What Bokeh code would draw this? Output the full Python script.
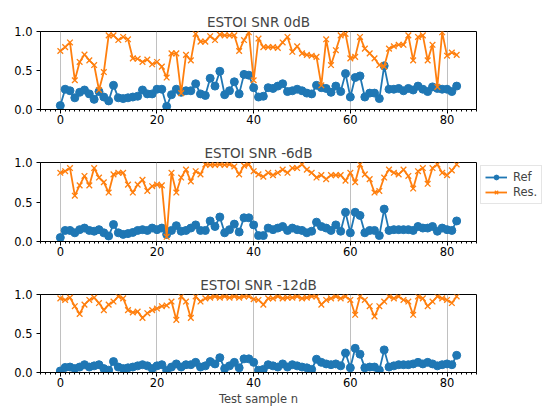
from bokeh.plotting import figure
from bokeh.layouts import column, row
from bokeh.models import (Range1d, SingleIntervalTicker, FixedTicker, PrintfTickFormatter,
                          Legend, LegendItem)
from bokeh.embed import file_html
from bokeh.resources import INLINE

n = list(range(83))

snr0_ref = [0.05,0.26,0.24,0.15,0.22,0.25,0.20,0.13,0.23,0.16,
            0.11,0.31,0.15,0.14,0.15,0.16,0.17,0.25,0.20,0.20,
            0.26,0.26,0.04,0.19,0.26,0.22,0.24,0.24,0.33,0.20,
            0.18,0.40,0.30,0.49,0.19,0.24,0.355,0.20,0.45,0.44,
            0.28,0.16,0.17,0.28,0.27,0.30,0.33,0.23,0.24,0.26,
            0.24,0.21,0.20,0.31,0.28,0.27,0.22,0.30,0.23,0.46,
            0.16,0.41,0.43,0.16,0.21,0.21,0.14,0.56,0.26,0.26,
            0.27,0.24,0.27,0.25,0.30,0.26,0.23,0.29,0.27,0.26,
            0.26,0.23,0.30]
snr0_res = [0.75,0.80,0.86,0.375,0.61,0.705,0.63,0.57,0.25,0.48,
            0.95,0.95,0.89,0.93,0.90,0.655,0.65,0.61,0.64,0.58,
            0.61,0.55,0.41,0.72,0.72,0.21,0.70,0.63,0.97,0.87,
            0.87,0.94,0.89,0.96,0.95,0.95,0.95,0.75,0.89,0.99,
            0.375,0.91,0.80,0.80,0.80,0.79,0.86,0.93,0.74,0.81,
            0.72,0.70,0.69,0.675,0.31,0.90,0.57,0.76,0.95,0.97,
            0.655,0.675,0.93,0.78,0.72,0.655,0.57,0.55,0.78,0.81,
            0.83,0.83,0.95,0.63,0.93,0.95,0.63,0.83,0.29,0.99,
            0.69,0.73,0.70]

snr6_ref = [0.05,0.14,0.14,0.11,0.15,0.17,0.14,0.13,0.15,0.11,
            0.07,0.215,0.11,0.09,0.10,0.115,0.14,0.15,0.14,0.17,
            0.15,0.17,0.09,0.14,0.20,0.13,0.14,0.17,0.21,0.14,
            0.14,0.26,0.19,0.31,0.11,0.15,0.22,0.12,0.30,0.30,
            0.21,0.075,0.075,0.17,0.15,0.17,0.19,0.14,0.17,0.15,
            0.14,0.11,0.13,0.245,0.19,0.17,0.14,0.21,0.13,0.37,
            0.11,0.37,0.33,0.11,0.14,0.14,0.075,0.41,0.14,0.15,
            0.15,0.15,0.15,0.14,0.19,0.17,0.17,0.19,0.13,0.17,
            0.15,0.14,0.26]
snr6_res = [0.87,0.89,0.93,0.58,0.71,0.83,0.71,0.93,0.81,0.75,
            0.62,0.85,0.87,0.87,0.72,0.62,0.72,0.78,0.64,0.70,
            0.72,0.71,0.06,0.87,0.62,0.81,0.91,0.76,0.89,0.85,
            0.975,0.97,0.97,0.975,0.97,0.975,0.95,0.85,0.96,0.975,
            0.89,0.85,0.82,0.87,0.84,0.87,0.91,0.87,0.93,0.93,
            0.975,0.91,0.87,0.81,0.84,0.79,0.84,0.84,0.84,0.77,
            0.87,0.75,0.975,0.85,0.79,0.62,0.64,0.81,0.91,0.87,
            0.85,0.91,0.83,0.67,0.89,0.93,0.73,0.93,0.975,0.87,
            0.84,0.90,0.975]

snr12_ref = [0.02,0.065,0.07,0.05,0.07,0.10,0.07,0.085,0.10,0.05,
             0.03,0.14,0.07,0.05,0.06,0.07,0.085,0.10,0.085,0.05,
             0.085,0.10,0.03,0.07,0.11,0.07,0.10,0.10,0.13,0.07,
             0.085,0.14,0.11,0.19,0.05,0.085,0.13,0.06,0.175,0.175,
             0.13,0.03,0.04,0.10,0.085,0.07,0.11,0.07,0.10,0.085,
             0.07,0.06,0.04,0.17,0.13,0.11,0.10,0.11,0.085,0.25,
             0.06,0.31,0.235,0.06,0.07,0.07,0.03,0.29,0.07,0.085,
             0.10,0.10,0.10,0.11,0.13,0.11,0.13,0.11,0.085,0.10,
             0.11,0.10,0.22]
snr12_res = [0.95,0.93,0.96,0.85,0.75,0.87,0.93,0.96,0.89,0.80,
             0.87,0.91,0.975,0.95,0.80,0.77,0.78,0.70,0.76,0.80,
             0.82,0.85,0.86,0.91,0.675,0.975,0.91,0.70,0.975,0.91,
             0.95,0.96,0.975,0.96,0.975,0.96,0.975,0.96,0.975,0.975,
             0.94,0.93,0.87,0.95,0.95,0.975,0.95,0.96,0.96,0.975,
             0.95,0.96,0.975,0.975,0.87,0.93,0.95,0.975,0.95,0.975,
             0.93,0.74,0.975,0.93,0.85,0.72,0.85,0.91,0.975,0.95,
             0.975,0.93,0.91,0.74,0.975,0.95,0.85,0.91,0.975,0.95,
             0.93,0.89,0.975]

titles = ["ESTOI SNR 0dB", "ESTOI SNR -6dB", "ESTOI SNR -12dB"]
series = [(snr0_ref, snr0_res), (snr6_ref, snr6_res), (snr12_ref, snr12_res)]
labels = ["Ref", "Res."]
y_ticks = [0.0, 0.5, 1.0]
BLUE = "#1f77b4"
ORANGE = "#ff7f0e"
FONT = "DejaVu Sans"

# (width, height, border top, border bottom, border right)
dims = [(547, 139, 31, 30, 71), (478, 131, 23, 29, 2), (547, 142, 24, 40, 71)]

figs = []
for k in range(3):
    w, h, bt, bb, br = dims[k]
    p = figure(width=w, height=h, output_backend="svg", toolbar_location=None,
               x_range=Range1d(-4.1, 86.1), y_range=Range1d(0, 1),
               min_border_left=40, min_border_right=br,
               min_border_top=bt, min_border_bottom=bb)
    p.title.text = titles[k]
    p.title.align = "center"
    p.title.text_font = FONT
    p.title.text_font_size = "13.5px"
    p.title.text_font_style = "normal"
    p.title.standoff = 3
    p.outline_line_color = "black"
    p.outline_line_width = 1
    p.outline_line_alpha = 1

    ref, res = series[k]
    p.line(n, ref, line_color=BLUE, line_width=1.8)
    p.scatter(n, ref, marker="circle", size=8, fill_color=BLUE, line_color=BLUE)
    p.line(n, res, line_color=ORANGE, line_width=1.8)
    p.scatter(n, res, marker="x", size=8, line_color=ORANGE, line_width=1.3)

    p.xaxis.ticker = SingleIntervalTicker(interval=20, num_minor_ticks=20)
    p.yaxis.ticker = FixedTicker(ticks=y_ticks)
    p.yaxis.formatter = PrintfTickFormatter(format="%.1f")
    for ax in (p.xaxis, p.yaxis):
        ax.major_tick_in = 0
        ax.major_tick_out = 4
        ax.minor_tick_in = 0
        ax.minor_tick_out = 2
        ax.major_label_text_font = FONT
        ax.major_label_text_font_size = "11.5px"
        ax.major_label_text_color = "black"
        ax.axis_line_color = "black"
        ax.major_tick_line_color = "black"
        ax.minor_tick_line_color = "black"
    p.xaxis.major_label_standoff = 1
    p.yaxis.major_label_standoff = 4
    p.yaxis.minor_tick_out = 0
    p.ygrid.visible = False
    p.xgrid.grid_line_color = "#b0b0b0"
    p.xgrid.grid_line_width = 0.8

    if k == 2:
        p.xaxis.axis_label = "Test sample n"
        p.xaxis.axis_label_text_font = FONT
        p.xaxis.axis_label_text_font_size = "11.5px"
        p.xaxis.axis_label_text_font_style = "normal"
        p.xaxis.axis_label_standoff = 2

    figs.append(p)

# legend panel placed right of the middle plot; its data sits outside its view range
lg = figure(width=69, height=131, output_backend="svg", toolbar_location=None,
            x_range=Range1d(0, 1), y_range=Range1d(5, 6),
            x_axis_location=None, y_axis_location=None,
            min_border_left=0, min_border_right=0, min_border_top=0, min_border_bottom=0)
lg.outline_line_color = None
lg.xgrid.visible = False
lg.ygrid.visible = False
r1 = lg.line(n, snr6_ref, line_color=BLUE, line_width=1.8)
r2 = lg.scatter(n, snr6_ref, marker="circle", size=8, fill_color=BLUE, line_color=BLUE)
r3 = lg.line(n, snr6_res, line_color=ORANGE, line_width=1.8)
r4 = lg.scatter(n, snr6_res, marker="x", size=8, line_color=ORANGE, line_width=1.3)
legend = Legend(items=[LegendItem(label=labels[0], renderers=[r1, r2]),
                       LegendItem(label=labels[1], renderers=[r3, r4])],
                location=(2, 37), orientation="vertical",
                label_text_font=FONT, label_text_font_size="11.5px",
                glyph_width=22, glyph_height=12, label_standoff=6,
                padding=4, spacing=1, margin=0,
                border_line_color="#cccccc", border_line_width=1,
                background_fill_alpha=0.8)
lg.add_layout(legend)

layout = column(figs[0], row(figs[1], lg, spacing=0), figs[2], spacing=0)
open("out.html", "w").write(file_html(layout, INLINE))
